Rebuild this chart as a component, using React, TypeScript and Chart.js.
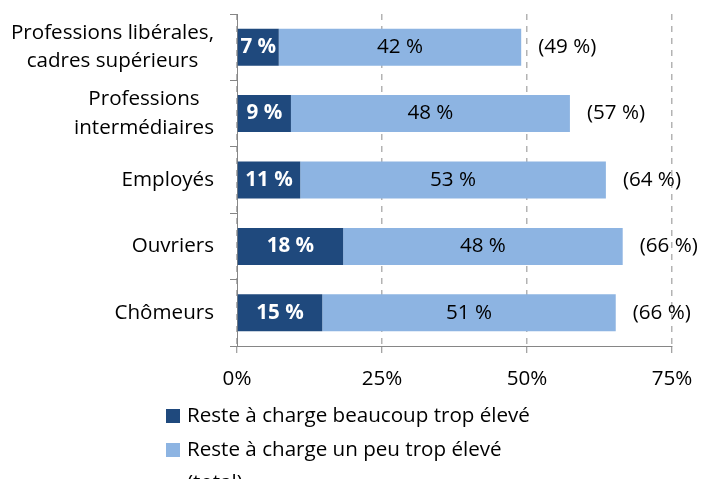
import React, { useEffect, useRef } from "react";
import { Chart, registerables } from "chart.js";

Chart.register(...registerables);

const categories: string[][] = [
  ["Professions libérales,", "cadres supérieurs"],
  ["Professions", "intermédiaires"],
  ["Employés"],
  ["Ouvriers"],
  ["Chômeurs"],
];
const beaucoupTrop = [7.2, 9.3, 10.9, 18.3, 14.7];
const unPeuTrop = [41.8, 48.1, 52.7, 48.2, 50.6];
const totalLabels = [49, 57, 64, 66, 66];
const xTicks = [0, 25, 50, 75];
const seriesNames = [
  "Reste à charge beaucoup trop élevé",
  "Reste à charge un peu trop élevé",
  "(total)",
];

const DARK = "#1F497D";
const LIGHT = "#8DB4E2";
const FONT = "'Open Sans', sans-serif";
const FS = 20.6;

export default function App() {
  const ref = useRef<HTMLCanvasElement | null>(null);
  useEffect(() => {
    if (!ref.current) return;
    const labelsPlugin = {
      id: "customLabels",
      afterDatasetsDraw(chart: any) {
        const ctx = chart.ctx;
        ctx.save();
        chart.data.datasets.forEach((ds: any, di: number) => {
          const meta = chart.getDatasetMeta(di);
          meta.data.forEach((bar: any, i: number) => {
            const v = ds.data[i];
            const cx = (bar.x + bar.base) / 2;
            ctx.font = `${di === 0 ? "bold " : ""}${FS}px ${FONT}`;
            ctx.fillStyle = di === 0 ? "#FFFFFF" : "#000000";
            ctx.textAlign = "center";
            ctx.textBaseline = "middle";
            ctx.fillText(`${Math.round(v)} %`, cx, bar.y);
            if (di === 1) {
              ctx.font = `${FS}px ${FONT}`;
              ctx.fillStyle = "#000000";
              ctx.textAlign = "left";
              ctx.fillText(`(${totalLabels[i]} %)`, bar.x + 17, bar.y);
            }
          });
        });
        ctx.restore();
      },
      afterDraw(chart: any) {
        const ctx = chart.ctx;
        const yScale = chart.scales.y;
        ctx.save();
        ctx.font = `${FS}px ${FONT}`;
        ctx.fillStyle = "#000000";
        ctx.textBaseline = "middle";
        ctx.textAlign = "center";
        const right = 214;
        const lh = 28.5;
        categories.forEach((lines, i) => {
          const cy = yScale.getPixelForValue(i);
          const w = Math.max(...lines.map((l) => ctx.measureText(l).width));
          const cx = right - w / 2;
          lines.forEach((l, j) => {
            ctx.fillText(l, cx, cy + (j - (lines.length - 1) / 2) * lh);
          });
        });
        const colors = [DARK, LIGHT, "rgba(0,0,0,0)"];
        const rows = [416, 450, 483];
        ctx.textAlign = "left";
        seriesNames.forEach((name, i) => {
          ctx.fillStyle = colors[i];
          ctx.fillRect(166, rows[i] - 7, 14, 14);
          ctx.fillStyle = "#000000";
          ctx.fillText(name, 187, rows[i]);
        });
        ctx.restore();
      },
    };

    const chart = new Chart(ref.current, {
      type: "bar",
      data: {
        labels: categories.map((c) => c.join(" ")),
        datasets: [
          {
            label: seriesNames[0],
            data: beaucoupTrop,
            backgroundColor: DARK,
            barPercentage: 0.557,
            categoryPercentage: 1,
          },
          {
            label: seriesNames[1],
            data: unPeuTrop,
            backgroundColor: LIGHT,
            barPercentage: 0.557,
            categoryPercentage: 1,
          },
        ],
      },
      options: {
        indexAxis: "y",
        responsive: false,
        animation: false,
        layout: { padding: { top: 14, right: 30, left: 0, bottom: 0 } },
        plugins: {
          legend: { display: false },
          tooltip: { enabled: false },
        },
        scales: {
          x: {
            stacked: true,
            min: 0,
            max: 75,
            afterBuildTicks(scale: any) {
              scale.ticks = xTicks.map((v) => ({ value: v }));
            },
            afterFit(scale: any) {
              scale.height = 133;
              scale.paddingLeft = 0;
              scale.paddingRight = 0;
            },
            ticks: {
              font: { family: FONT, size: FS },
              color: "#000000",
              padding: 14,
              maxRotation: 0,
              callback: (v: any) => `${v}%`,
            },
            grid: {
              color: "#B3B3B3",
              lineWidth: 1.5,
              tickColor: "#868686",
              tickWidth: 1,
              tickBorderDash: [],
              tickLength: 7,
            } as any,
            border: { color: "#868686", width: 1, dash: [6, 6] },
          },
          y: {
            stacked: true,
            afterFit(scale: any) {
              scale.width = 237;
              scale.paddingTop = 0;
              scale.paddingBottom = 0;
            },
            ticks: { display: false },
            grid: {
              offset: true,
              drawOnChartArea: false,
              drawTicks: true,
              tickLength: 7,
              color: "#868686",
            },
            border: { color: "#868686", width: 1 },
          },
        },
      },
      plugins: [labelsPlugin],
    } as any);
    return () => chart.destroy();
  }, []);
  return (
    <div style={{ position: "absolute", left: 0, top: 0, width: 702, height: 479, background: "#fff" }}>
      <canvas ref={ref} width={702} height={479} style={{ display: "block" }} />
    </div>
  );
}
